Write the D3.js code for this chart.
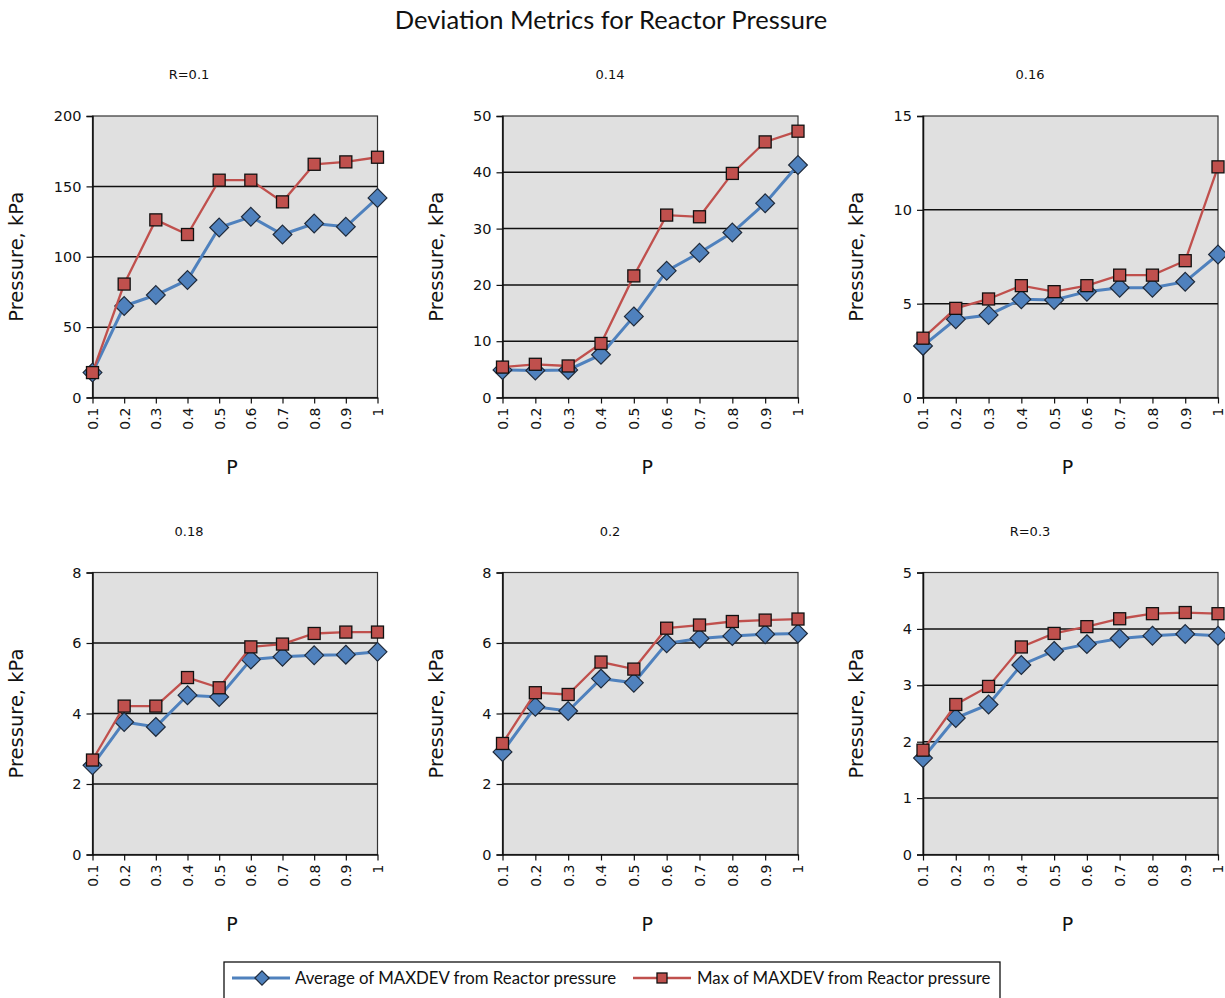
<!DOCTYPE html>
<html>
<head>
<meta charset="utf-8">
<script src="https://cdn.jsdelivr.net/npm/d3@7"></script>
<style>
  html, body { margin: 0; padding: 0; background: #fff; }
  svg { display: block; }
</style>
</head>
<body>
<svg id="chart" width="1225" height="998"></svg>
<script>
// P values along each x axis
const categories = ["0.1", "0.2", "0.3", "0.4", "0.5", "0.6", "0.7", "0.8", "0.9", "1"];

// Panel headings (one panel per R value)
const panelTitles = ["R=0.1", "0.14", "0.16", "0.18", "0.2", "R=0.3"];

// Y-axis tick values per panel
const yTicksR010 = [0, 50, 100, 150, 200];
const yTicksR014 = [0, 10, 20, 30, 40, 50];
const yTicksR016 = [0, 5, 10, 15];
const yTicksR018 = [0, 2, 4, 6, 8];
const yTicksR020 = [0, 2, 4, 6, 8];
const yTicksR030 = [0, 1, 2, 3, 4, 5];

// Average of MAXDEV from Reactor pressure (kPa)
const avgR010 = [17.7, 65.0, 72.8, 83.5, 120.8, 128.4, 115.8, 123.6, 121.3, 141.8];
const avgR014 = [4.9, 4.8, 4.9, 7.6, 14.4, 22.5, 25.7, 29.3, 34.5, 41.3];
const avgR016 = [2.75, 4.17, 4.4, 5.23, 5.2, 5.64, 5.85, 5.85, 6.17, 7.62];
const avgR018 = [2.53, 3.76, 3.62, 4.52, 4.47, 5.53, 5.61, 5.65, 5.67, 5.75];
const avgR020 = [2.91, 4.19, 4.07, 4.99, 4.87, 5.99, 6.13, 6.20, 6.25, 6.27];
const avgR030 = [1.71, 2.42, 2.66, 3.36, 3.61, 3.73, 3.83, 3.88, 3.91, 3.88];

// Max of MAXDEV from Reactor pressure (kPa)
const maxR010 = [17.7, 80.6, 126.2, 115.8, 154.4, 154.4, 139.0, 165.7, 167.4, 170.7];
const maxR014 = [5.4, 5.9, 5.6, 9.6, 21.6, 32.4, 32.1, 39.8, 45.4, 47.3];
const maxR016 = [3.16, 4.75, 5.25, 5.96, 5.64, 5.96, 6.52, 6.52, 7.29, 12.29];
const maxR018 = [2.68, 4.21, 4.21, 5.02, 4.73, 5.89, 5.97, 6.27, 6.31, 6.31];
const maxR020 = [3.15, 4.59, 4.54, 5.46, 5.26, 6.42, 6.51, 6.61, 6.65, 6.68];
const maxR030 = [1.85, 2.66, 2.98, 3.68, 3.92, 4.04, 4.18, 4.27, 4.29, 4.27];

const seriesNames = ["Average of MAXDEV from Reactor pressure", "Max of MAXDEV from Reactor pressure"];

const panels = [
  { title: panelTitles[0], ticks: yTicksR010, avg: avgR010, max: maxR010 },
  { title: panelTitles[1], ticks: yTicksR014, avg: avgR014, max: maxR014 },
  { title: panelTitles[2], ticks: yTicksR016, avg: avgR016, max: maxR016 },
  { title: panelTitles[3], ticks: yTicksR018, avg: avgR018, max: maxR018 },
  { title: panelTitles[4], ticks: yTicksR020, avg: avgR020, max: maxR020 },
  { title: panelTitles[5], ticks: yTicksR030, avg: avgR030, max: maxR030 }
];

const BLUE = "#4F81BD", RED = "#C0504D";
const TICK_FONT = "'DejaVu Sans', Verdana, sans-serif";
const TITLE_FONT = "Lato, 'Open Sans', sans-serif";

const svg = d3.select("#chart");

// Overall title
svg.append("text")
  .attr("x", 611).attr("y", 29)
  .attr("text-anchor", "middle")
  .style("font-family", TITLE_FONT)
  .style("font-size", "25.5px")
  .attr("fill", "#111")
  .text("Deviation Metrics for Reactor Pressure");

// Plot-area frames for the 3x2 grid
const colX = [[92.5, 377.5], [502.5, 798], [923, 1218]];
const rowY = [[116, 397.5], [572.5, 854.5]];
const colOrigin = [0, 420, 840];
const rowOrigin = [0, 456.5];

panels.forEach((p, i) => {
  const c = i % 3, r = Math.floor(i / 3);
  const [x0, x1] = colX[c];
  const [y0, y1] = rowY[r];
  const g = svg.append("g");

  const x = d3.scalePoint().domain(categories).range([x0, x1]).padding(0);
  const y = d3.scaleLinear().domain([0, d3.max(p.ticks)]).range([y1, y0]);

  // Panel heading
  g.append("text")
    .attr("x", colOrigin[c] + (c === 0 ? 189 : 190))
    .attr("y", rowOrigin[r] + 79)
    .attr("text-anchor", "middle")
    .style("font-family", TICK_FONT)
    .style("font-size", "13px")
    .attr("fill", "#111")
    .text(p.title);

  // Plot background
  g.append("rect")
    .attr("x", x0).attr("y", y0)
    .attr("width", x1 - x0).attr("height", y1 - y0)
    .attr("fill", "#E0E0E0")
    .attr("stroke", "#333").attr("stroke-width", 1.2);

  // Horizontal gridlines
  g.append("g").selectAll("line")
    .data(p.ticks.filter(t => t > 0 && t < d3.max(p.ticks)))
    .join("line")
    .attr("x1", x0).attr("x2", x1)
    .attr("y1", d => y(d)).attr("y2", d => y(d))
    .attr("stroke", "#111").attr("stroke-width", 1.5);

  // Y axis
  const yAxis = g.append("g")
    .attr("transform", `translate(${x0},0)`)
    .call(d3.axisLeft(y).tickValues(p.ticks).tickSize(6).tickPadding(5).tickFormat(d3.format("d")));
  yAxis.select(".domain").attr("stroke", "#111").attr("stroke-width", 1.5);
  yAxis.selectAll(".tick line").attr("stroke", "#111").attr("stroke-width", 1.2);
  yAxis.selectAll("text")
    .style("font-family", TICK_FONT).style("font-size", "14.5px").attr("fill", "#111");

  // X axis
  const xAxis = g.append("g")
    .attr("transform", `translate(0,${y1})`)
    .call(d3.axisBottom(x).tickSize(6).tickSizeOuter(0));
  xAxis.select(".domain").attr("stroke", "#111").attr("stroke-width", 1.5);
  xAxis.selectAll(".tick line").attr("stroke", "#111").attr("stroke-width", 1.2);
  xAxis.selectAll("text")
    .style("font-family", TICK_FONT).style("font-size", "14px").attr("fill", "#111")
    .attr("transform", "rotate(-90)")
    .attr("text-anchor", "end")
    .attr("dy", "0.35em")
    .attr("x", -10).attr("y", 0);

  // Axis titles
  g.append("text")
    .attr("transform", `translate(${colOrigin[c] + 23},${(y0 + y1) / 2}) rotate(-90)`)
    .attr("text-anchor", "middle")
    .style("font-family", TICK_FONT)
    .style("font-size", "19.5px")
    .attr("fill", "#111")
    .text("Pressure, kPa");
  g.append("text")
    .attr("x", (x0 + x1) / 2 - 3)
    .attr("y", y1 + 76)
    .attr("text-anchor", "middle")
    .style("font-family", TICK_FONT)
    .style("font-size", "19px")
    .attr("fill", "#111")
    .text("P");

  const line = d3.line().x((d, k) => x(categories[k])).y(d => y(d));

  // Average series: line then diamonds
  g.append("path").datum(p.avg)
    .attr("d", line).attr("fill", "none")
    .attr("stroke", BLUE).attr("stroke-width", 3);
  g.append("g").selectAll("path")
    .data(p.avg).join("path")
    .attr("d", d3.symbol(d3.symbolDiamond2, 225)())
    .attr("transform", (d, k) => `translate(${x(categories[k])},${y(d)})`)
    .attr("fill", BLUE).attr("stroke", "#1f2a3a").attr("stroke-width", 1.2);

  // Max series: line then squares
  g.append("path").datum(p.max)
    .attr("d", line).attr("fill", "none")
    .attr("stroke", RED).attr("stroke-width", 2.3);
  g.append("g").selectAll("rect")
    .data(p.max).join("rect")
    .attr("x", (d, k) => x(categories[k]) - 6)
    .attr("y", d => y(d) - 6)
    .attr("width", 12).attr("height", 12)
    .attr("fill", RED).attr("stroke", "#111").attr("stroke-width", 1.3);
});

// Legend
const legend = svg.append("g");
legend.append("rect")
  .attr("x", 224).attr("y", 962)
  .attr("width", 776).attr("height", 50)
  .attr("fill", "#fff").attr("stroke", "#111").attr("stroke-width", 1.3);

const legendItems = [
  { name: seriesNames[0], color: BLUE, x: 232, textX: 295, marker: "diamond" },
  { name: seriesNames[1], color: RED, x: 633, textX: 697, marker: "square" }
];
legendItems.forEach(it => {
  legend.append("line")
    .attr("x1", it.x).attr("x2", it.x + 58)
    .attr("y1", 978).attr("y2", 978)
    .attr("stroke", it.color).attr("stroke-width", it.marker === "diamond" ? 3 : 2.3);
  if (it.marker === "diamond") {
    legend.append("path")
      .attr("d", d3.symbol(d3.symbolDiamond2, 130)())
      .attr("transform", `translate(${it.x + 30},978)`)
      .attr("fill", it.color).attr("stroke", "#1f2a3a").attr("stroke-width", 1.2);
  } else {
    legend.append("rect")
      .attr("x", it.x + 29 - 5).attr("y", 973)
      .attr("width", 10).attr("height", 10)
      .attr("fill", it.color).attr("stroke", "#111").attr("stroke-width", 1.3);
  }
  legend.append("text")
    .attr("x", it.textX).attr("y", 984)
    .style("font-family", TITLE_FONT)
    .style("font-size", "16.8px")
    .attr("fill", "#111")
    .text(it.name);
});
</script>
</body>
</html>
